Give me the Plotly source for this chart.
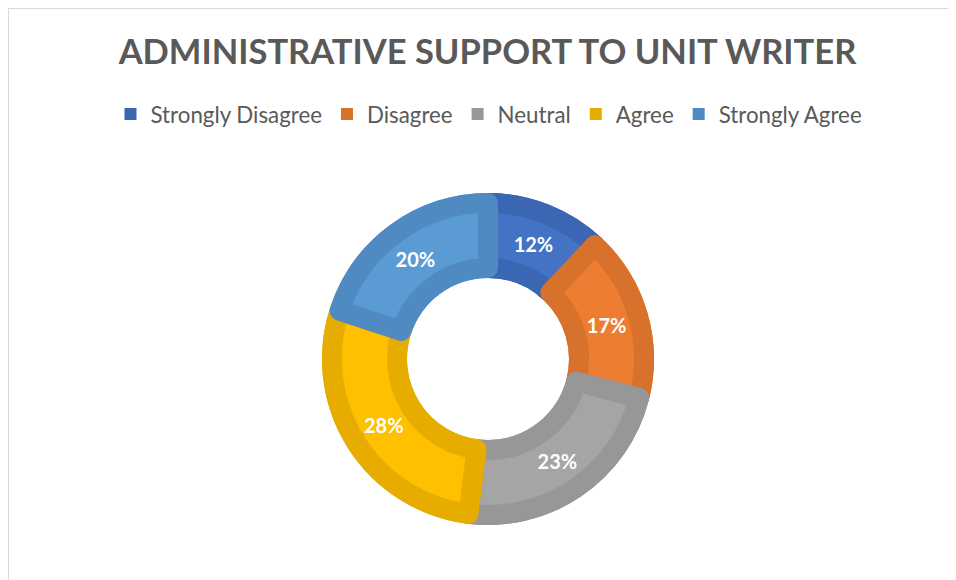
import plotly.graph_objects as go

categories = ["Strongly Disagree", "Disagree", "Neutral", "Agree", "Strongly Agree"]
values = [12, 17, 23, 28, 20]
fill_colors = ["#4472C4", "#ED7D31", "#A5A5A5", "#FFC000", "#5B9BD5"]
edge_colors = ["#3B66B4", "#D8712B", "#979797", "#E6AD00", "#4F8BC2"]
title_text = "ADMINISTRATIVE SUPPORT TO UNIT WRITER"

# page has an 8px body margin, so the figure is sized to end at the window edge
W, H = 948, 572
cx, cy = 480, 351
R_out, R_in = 166, 81   # visible ring
band = 10               # darker border band inside each slice
lw = 2 * band


def dom(r):
    return dict(x=[(cx - r) / W, (cx + r) / W],
                y=[(H - cy - r) / H, (H - cy + r) / H])


# bottom layer: full ring in the darker edge colours (also supplies the legend)
base = go.Pie(
    labels=categories, values=values, sort=False, direction="clockwise", rotation=0,
    hole=R_in / R_out, domain=dom(R_out),
    marker=dict(colors=edge_colors, line=dict(width=0)),
    textinfo="none", hoverinfo="skip", showlegend=True,
)

# top layer: lighter fill inset, its stroke forms the inner side of the border
R2 = R_out - band
top = go.Pie(
    labels=categories, values=values, sort=False, direction="clockwise", rotation=0,
    hole=(R_in + band) / R2, domain=dom(R2),
    marker=dict(colors=fill_colors, line=dict(color=edge_colors, width=lw)),
    textinfo="percent", textposition="inside", insidetextorientation="horizontal",
    textfont=dict(family="Lato", size=20, color="white", weight="bold"),
    hoverinfo="label+percent", showlegend=False,
)

fig = go.Figure([base, top])

fig.update_layout(
    width=W, height=H,
    margin=dict(l=0, r=0, t=0, b=0),
    paper_bgcolor="white",
    title=dict(text="<b>" + title_text + "</b>", x=0.5058, xanchor="center",
               y=1 - 44 / H, yanchor="middle", yref="container",
               font=dict(family="Lato", size=34.5, color="#595959")),
    legend=dict(orientation="h", x=0.5074, xanchor="center",
                y=1 - 106 / H, yanchor="middle", yref="paper",
                font=dict(family="Lato", size=22.3, color="#595959"),
                traceorder="normal", bgcolor="rgba(0,0,0,0)"),
    shapes=[
        dict(type="line", xref="paper", yref="paper", x0=0, x1=1, y0=1, y1=1,
             line=dict(color="#D9D9D9", width=2)),
        dict(type="line", xref="paper", yref="paper", x0=0, x1=0, y0=0, y1=1,
             line=dict(color="#D9D9D9", width=2)),
    ],
)

fig.write_html("out.html")
